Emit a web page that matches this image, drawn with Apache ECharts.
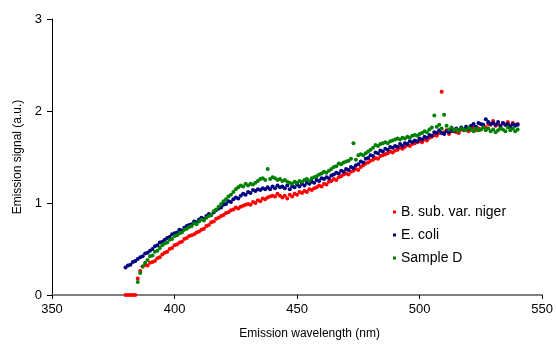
<!DOCTYPE html>
<html><head><meta charset="utf-8">
<script src="https://cdn.jsdelivr.net/npm/echarts@6/dist/echarts.min.js"></script>
<style>html,body{margin:0;padding:0;background:#fff}#c{width:556px;height:347px}</style>
</head><body><div id="c"></div>
<script>
// Wavelength grid (nm): 1 nm steps from 380 to 540
const wlStart = 380;
const xTicks = [350, 400, 450, 500, 550];
const yTicks = [0, 1, 2, 3];
const seriesNames = ['B. sub. var. niger', 'E. coli', 'Sample D'];

// B. sub. var. niger, 380..540 nm
const bsubValues = [
0,0,0,0,0,
0.18,0.26,0.31,0.33,0.32,
0.35,0.36,0.37,0.40,0.41,0.44,0.46,0.47,0.50,0.51,
0.54,0.55,0.57,0.58,0.61,0.62,0.64,0.65,0.66,0.68,
0.69,0.71,0.72,0.75,0.76,0.79,0.80,0.83,0.84,0.86,
0.87,0.89,0.90,0.92,0.93,0.95,0.94,0.96,0.97,0.98,
0.99,0.98,1.01,1.00,1.03,1.02,1.05,1.04,1.06,1.07,
1.08,1.07,1.10,1.08,1.06,1.08,1.05,1.09,1.07,1.10,
1.09,1.12,1.11,1.13,1.12,1.15,1.14,1.16,1.17,1.19,
1.18,1.21,1.20,1.23,1.24,1.26,1.25,1.28,1.29,1.31,
1.32,1.31,1.34,1.35,1.37,1.36,1.39,1.41,1.43,1.44,
1.46,1.47,1.49,1.48,1.51,1.52,1.53,1.54,1.56,1.55,
1.57,1.58,1.60,1.59,1.61,1.63,1.62,1.64,1.65,1.66,
1.67,1.66,1.69,1.68,1.71,1.72,1.74,1.73,1.76,2.21,
1.77,1.79,1.75,1.78,1.80,1.77,1.76,1.80,1.79,1.82,
1.78,1.80,1.82,1.79,1.81,1.80,1.84,1.82,1.86,1.85,
1.89,1.84,1.86,1.83,1.87,1.85,1.88,1.84,1.87,1.85,1.86];

// E. coli, 380..540 nm
const ecoliValues = [
0.30,0.32,0.33,0.36,0.37,0.39,0.41,0.42,0.45,0.46,
0.48,0.50,0.53,0.54,0.57,0.58,0.60,0.62,0.63,0.66,
0.67,0.68,0.71,0.70,0.73,0.75,0.76,0.77,0.80,0.79,
0.82,0.84,0.83,0.86,0.88,0.87,0.90,0.92,0.94,0.95,
0.98,0.99,1.02,1.01,1.04,1.06,1.05,1.08,1.10,1.09,
1.12,1.11,1.14,1.13,1.15,1.14,1.16,1.15,1.17,1.15,
1.18,1.16,1.19,1.17,1.18,1.16,1.19,1.15,1.18,1.17,
1.20,1.18,1.21,1.19,1.22,1.21,1.23,1.22,1.25,1.24,
1.27,1.26,1.28,1.27,1.30,1.31,1.33,1.32,1.35,1.34,
1.37,1.36,1.39,1.38,1.41,1.42,1.45,1.44,1.48,1.49,
1.52,1.51,1.55,1.54,1.57,1.56,1.59,1.58,1.61,1.60,
1.62,1.61,1.64,1.62,1.65,1.64,1.67,1.66,1.68,1.67,
1.70,1.69,1.72,1.71,1.74,1.73,1.77,1.76,1.79,1.76,
1.75,1.78,1.77,1.80,1.78,1.81,1.79,1.82,1.80,1.83,
1.81,1.84,1.86,1.83,1.87,1.86,1.85,1.91,1.88,1.86,
1.87,1.85,1.88,1.84,1.87,1.85,1.86,1.83,1.86,1.84,1.85];

// Sample D, 380..540 nm (no signal recorded below 385 nm)
const sampleDValues = [
null,null,null,null,null,
0.14,0.24,0.31,0.35,0.38,
0.42,0.43,0.47,0.48,0.51,0.54,0.56,0.57,0.60,0.61,
0.64,0.65,0.67,0.68,0.71,0.72,0.74,0.75,0.78,0.77,
0.80,0.82,0.81,0.84,0.86,0.87,0.91,0.93,0.96,0.99,
1.02,1.04,1.07,1.09,1.12,1.15,1.17,1.19,1.18,1.21,
1.19,1.21,1.20,1.22,1.24,1.26,1.27,1.25,1.37,1.26,
1.28,1.27,1.25,1.26,1.24,1.25,1.23,1.22,1.21,1.23,
1.22,1.24,1.23,1.25,1.26,1.24,1.27,1.28,1.29,1.31,
1.32,1.34,1.33,1.35,1.37,1.39,1.40,1.43,1.42,1.44,
1.45,1.46,1.48,1.65,1.47,1.52,1.53,1.52,1.54,1.56,
1.58,1.60,1.63,1.62,1.64,1.65,1.66,1.65,1.67,1.68,
1.69,1.70,1.69,1.71,1.70,1.72,1.71,1.73,1.74,1.73,
1.75,1.76,1.78,1.77,1.80,1.82,1.95,1.83,1.85,1.81,
1.96,1.84,1.80,1.82,1.79,1.80,1.78,1.81,1.80,1.79,
1.82,1.80,1.78,1.81,1.79,1.80,1.82,1.79,1.81,1.78,
1.80,1.77,1.79,1.81,1.80,1.78,1.82,1.79,1.81,1.78,1.80];

const colors = ['#FF0000', '#000080', '#008000'];

function pairs(vals) {
  const out = [];
  vals.forEach((v, i) => { if (v !== null) out.push([wlStart + i, v]); });
  return out;
}

const chart = echarts.init(document.getElementById('c'), null, {renderer: 'canvas'});
const font = 'Liberation Sans, Arial, sans-serif';
chart.setOption({
  animation: false,
  backgroundColor: '#fff',
  textStyle: {fontFamily: font},
  grid: {left: 52, right: 13, top: 19, bottom: 52, containLabel: false},
  xAxis: {
    type: 'value', min: xTicks[0], max: xTicks[xTicks.length - 1], interval: 50,
    name: 'Emission wavelength (nm)', nameLocation: 'middle', nameGap: 33,
    nameTextStyle: {fontSize: 12, color: '#000', fontFamily: font, padding: [0, 0, 0, 25]},
    axisLine: {show: true, onZero: false, lineStyle: {color: '#808080', width: 2}},
    axisTick: {show: true, inside: false, length: 4, lineStyle: {color: '#000'}},
    axisLabel: {fontSize: 13, color: '#000', margin: 8, fontFamily: font},
    splitLine: {show: false}
  },
  yAxis: {
    type: 'value', min: yTicks[0], max: yTicks[yTicks.length - 1], interval: 1,
    name: 'Emission signal (a.u.)', nameLocation: 'middle', nameGap: 28,
    nameTextStyle: {fontSize: 12, color: '#000', fontFamily: font},
    axisLine: {show: true, lineStyle: {color: '#000', width: 1}},
    axisTick: {show: true, inside: false, length: 5, lineStyle: {color: '#000'}},
    axisLabel: {fontSize: 13, color: '#000', margin: 10, fontFamily: font},
    splitLine: {show: false}
  },
  legend: {
    orient: 'vertical', left: 388, top: 200,
    itemWidth: 3, itemHeight: 3, itemGap: 9,
    icon: 'rect',
    textStyle: {fontSize: 14, color: '#000', fontFamily: font, padding: [0, 0, 0, 0]},
    data: seriesNames
  },
  series: [bsubValues, ecoliValues, sampleDValues].map((vals, k) => ({
    name: seriesNames[k], type: 'scatter', symbol: 'circle', symbolSize: 4,
    itemStyle: {color: colors[k], opacity: 1},
    data: pairs(vals)
  }))
});
</script></body></html>
